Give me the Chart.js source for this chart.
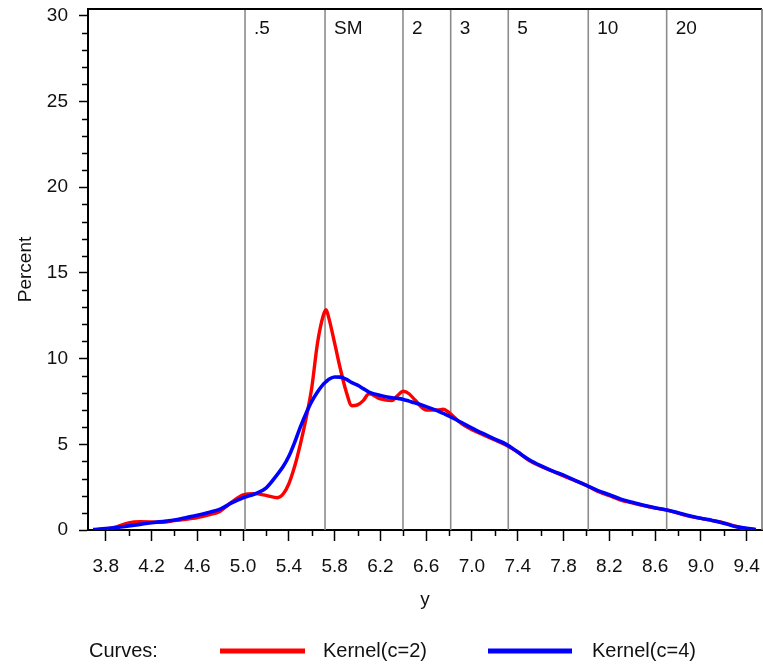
<!DOCTYPE html>
<html>
<head>
<meta charset="utf-8">
<script src="https://cdn.jsdelivr.net/npm/chart.js@4/dist/chart.umd.min.js"></script>
<style>
  html, body { margin: 0; padding: 0; background: #fff; }
  #wrap { width: 763px; height: 667px; }
</style>
</head>
<body>
<div id="wrap"><canvas id="c" width="763" height="667"></canvas></div>
<script>
// ---- data ----
const xGrid = [3.69, 3.8, 3.9, 4.0, 4.1, 4.2, 4.3, 4.4, 4.5, 4.6, 4.7, 4.8, 4.9, 5.0, 5.1, 5.2, 5.3, 5.35, 5.4, 5.45,
  5.5, 5.55, 5.6, 5.65, 5.7, 5.725, 5.75, 5.8, 5.85, 5.9, 5.95, 6.0, 6.05, 6.1, 6.2, 6.3, 6.35, 6.4, 6.45, 6.5,
  6.6, 6.7, 6.75, 6.8, 6.9, 7.0, 7.1, 7.2, 7.3, 7.4, 7.5, 7.6, 7.7, 7.8, 7.9, 8.0, 8.1, 8.2, 8.3, 8.4,
  8.5, 8.6, 8.7, 8.8, 8.9, 9.0, 9.1, 9.2, 9.3, 9.4, 9.48];

const kernelC2 = [0.0, 0.05, 0.2, 0.42, 0.48, 0.47, 0.45, 0.55, 0.62, 0.72, 0.88, 1.1, 1.62, 2.05, 2.12, 2.02, 1.88, 2.1, 2.7, 3.7,
  5.0, 6.5, 8.3, 10.9, 12.5, 12.85, 12.35, 10.9, 9.4, 8.1, 7.25, 7.3, 7.55, 7.95, 7.65, 7.55, 7.85, 8.1, 7.95, 7.6,
  7.0, 7.0, 7.05, 6.85, 6.25, 5.85, 5.55, 5.25, 4.95, 4.55, 4.05, 3.72, 3.45, 3.15, 2.88, 2.6, 2.25, 2.0, 1.75, 1.58,
  1.42, 1.28, 1.17, 0.98, 0.8, 0.68, 0.55, 0.42, 0.22, 0.05, 0.02];

const kernelC4 = [0.02, 0.08, 0.15, 0.24, 0.33, 0.42, 0.5, 0.58, 0.72, 0.86, 1.02, 1.22, 1.58, 1.88, 2.1, 2.45, 3.25, 3.7, 4.3, 5.1,
  6.0, 6.8, 7.5, 8.05, 8.5, 8.65, 8.8, 8.93, 8.92, 8.8, 8.6, 8.45, 8.25, 8.05, 7.85, 7.72, 7.68, 7.62, 7.52, 7.42,
  7.2, 6.95, 6.8, 6.65, 6.3, 5.95, 5.62, 5.3, 5.0, 4.55, 4.1, 3.75, 3.45, 3.2, 2.9, 2.6, 2.3, 2.06, 1.8, 1.62,
  1.45, 1.3, 1.17, 1.0, 0.83, 0.68, 0.56, 0.4, 0.2, 0.1, 0.03];

const seriesNames = ['Kernel(c=2)', 'Kernel(c=4)'];

const refValues = [5.017, 5.716, 6.397, 6.814, 7.317, 8.016, 8.701];
const refLabels = ['.5', 'SM', '2', '3', '5', '10', '20'];

const xMajorTicks = [3.8, 4.2, 4.6, 5.0, 5.4, 5.8, 6.2, 6.6, 7.0, 7.4, 7.8, 8.2, 8.6, 9.0, 9.4];
const xMinorTicks = [4.0, 4.4, 4.8, 5.2, 5.6, 6.0, 6.4, 6.8, 7.2, 7.6, 8.0, 8.4, 8.8, 9.2];
const yMajorTicks = [0, 5, 10, 15, 20, 25, 30];
const yMinorTicks = [1, 2, 3, 4, 6, 7, 8, 9, 11, 12, 13, 14, 16, 17, 18, 19, 21, 22, 23, 24, 26, 27, 28, 29];

const X_MIN = 3.645, X_MAX = 9.534, Y_MIN = 0, Y_MAX = 30.4;

// ---- chart ----
const FONT = "'Liberation Sans', Arial, Helvetica, sans-serif";
const font = { family: FONT, size: 19 };
const TEXT = '#111';

const pts = ys => xGrid.map((x, i) => ({ x: x, y: ys[i] }));

const refDatasets = refValues.map(v => ({
  type: 'line',
  label: '_ref',
  data: [{ x: v, y: Y_MIN }, { x: v, y: Y_MAX }],
  borderColor: '#8c8c8c',
  borderWidth: 1.6,
  pointRadius: 0,
  order: 5
}));

const curveDatasets = [
  { label: seriesNames[0], data: pts(kernelC2), borderColor: '#ff0000', borderWidth: 3.4, order: 2 },
  { label: seriesNames[1], data: pts(kernelC4), borderColor: '#0000ff', borderWidth: 3.6, order: 1 }
].map(d => Object.assign({ type: 'line', pointRadius: 0, cubicInterpolationMode: 'monotone', fill: false }, d));

const decor = {
  id: 'decor',
  afterDraw(chart) {
    const ctx = chart.ctx;
    const xs = chart.scales.x, ys = chart.scales.y;
    const a = chart.chartArea;
    ctx.save();
    // frame top & right
    ctx.strokeStyle = '#000';
    ctx.lineWidth = 2;
    ctx.beginPath();
    ctx.moveTo(a.left, a.top); ctx.lineTo(a.right, a.top);
    ctx.stroke();
    ctx.strokeStyle = '#777';
    ctx.lineWidth = 1.6;
    ctx.beginPath();
    ctx.moveTo(a.right, a.top); ctx.lineTo(a.right, a.bottom);
    ctx.stroke();
    // minor ticks
    ctx.strokeStyle = '#000';
    ctx.lineWidth = 1.5;
    ctx.beginPath();
    yMinorTicks.forEach(v => {
      const py = Math.round(ys.getPixelForValue(v)) + 0.5;
      ctx.moveTo(a.left - 6, py); ctx.lineTo(a.left, py);
    });
    xMinorTicks.forEach(v => {
      const px = Math.round(xs.getPixelForValue(v)) + 0.5;
      ctx.moveTo(px, a.bottom); ctx.lineTo(px, a.bottom + 6);
    });
    ctx.stroke();
    // reference line labels
    ctx.fillStyle = TEXT;
    ctx.font = '19px ' + FONT;
    ctx.textAlign = 'left';
    ctx.textBaseline = 'middle';
    refValues.forEach((v, i) => {
      ctx.fillText(refLabels[i], xs.getPixelForValue(v) + 9, a.top + 20);
    });
    // legend
    ctx.font = '20px ' + FONT;
    const ly = 651;
    ctx.fillText('Curves:', 89, ly);
    const items = [
      { x0: 220, x1: 305, tx: 323 },
      { x0: 488, x1: 572, tx: 592 }
    ];
    curveDatasets.forEach((d, i) => {
      const it = items[i];
      ctx.strokeStyle = d.borderColor;
      ctx.lineWidth = 5;
      ctx.beginPath();
      ctx.moveTo(it.x0, ly); ctx.lineTo(it.x1, ly);
      ctx.stroke();
      ctx.fillText(d.label, it.tx, ly);
    });
    ctx.restore();
  }
};

new Chart(document.getElementById('c'), {
  type: 'line',
  data: { datasets: [...curveDatasets, ...refDatasets] },
  options: {
    responsive: false,
    animation: false,
    events: [],
    layout: { padding: { top: 9, right: 1, bottom: 50, left: 0 } },
    plugins: { legend: { display: false }, tooltip: { enabled: false } },
    scales: {
      x: {
        type: 'linear',
        min: X_MIN, max: X_MAX,
        afterBuildTicks: s => { s.ticks = xMajorTicks.map(v => ({ value: v })); },
        afterFit: s => { s.height = 87; s.paddingLeft = 0; s.paddingRight = 0; },
        ticks: { font: font, color: TEXT, padding: 14, maxRotation: 0, autoSkip: false,
                 callback: v => Number(v).toFixed(1) },
        grid: { drawOnChartArea: false, tickLength: 11, tickColor: '#000', tickWidth: 1.5 },
        border: { color: '#000', width: 2 },
        title: { display: true, text: 'y', font: font, color: TEXT, padding: { top: 0, bottom: 6 } }
      },
      y: {
        type: 'linear',
        min: Y_MIN, max: Y_MAX,
        afterBuildTicks: s => { s.ticks = yMajorTicks.map(v => ({ value: v })); },
        afterFit: s => { s.width = 88; s.paddingTop = 0; s.paddingBottom = 0; },
        ticks: { font: font, color: TEXT, padding: 11, autoSkip: false },
        grid: { drawOnChartArea: false, tickLength: 9, tickColor: '#000', tickWidth: 1.5 },
        border: { color: '#000', width: 2 },
        title: { display: true, text: 'Percent', font: font, color: TEXT, padding: { top: 14, bottom: 0 } }
      }
    }
  },
  plugins: [decor]
});
</script>
</body>
</html>
